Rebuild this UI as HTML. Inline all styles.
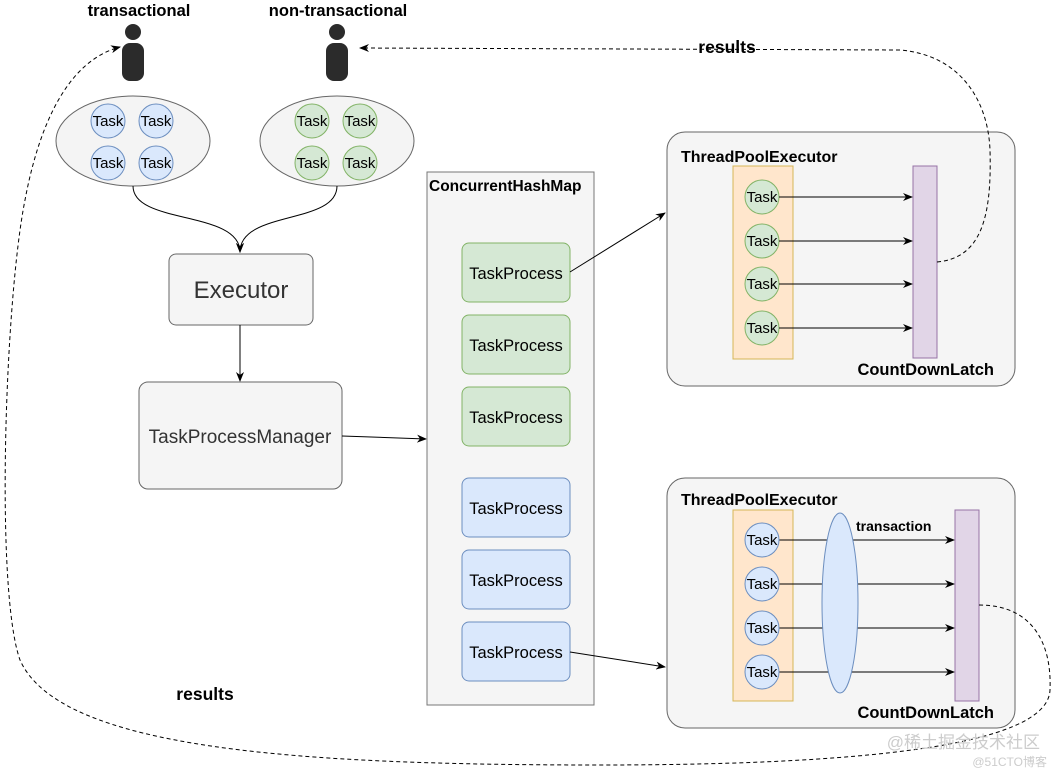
<!DOCTYPE html>
<html><head><meta charset="utf-8"><style>
html,body{margin:0;padding:0;background:#fff;}
svg{display:block;font-family:"Liberation Sans",Helvetica,Arial,sans-serif;}
.b{font-weight:bold;fill:#000;}
</style></head><body>
<svg width="1057" height="773" viewBox="0 0 1057 773" xmlns="http://www.w3.org/2000/svg">
<defs>
<marker id="a" markerWidth="10" markerHeight="10" refX="9" refY="5" orient="auto" markerUnits="userSpaceOnUse"><path d="M0,1 L10,5 L0,9 L3,5 Z" fill="#000"/></marker>
</defs>
<rect width="1057" height="773" fill="#fff"/>
<text x="139" y="16" text-anchor="middle" class="b" font-size="16.5">transactional</text>
<text x="338" y="16" text-anchor="middle" class="b" font-size="16.5">non-transactional</text>
<g fill="#2b2b2b">
<circle cx="133" cy="32" r="8"/><rect x="122" y="43" width="22" height="38" rx="8"/>
<circle cx="337" cy="32" r="8"/><rect x="326" y="43" width="22" height="38" rx="8"/>
</g>
<ellipse cx="133" cy="141" rx="77" ry="45" fill="#f4f4f4" stroke="#666"/>
<ellipse cx="337" cy="141" rx="77" ry="45" fill="#f4f4f4" stroke="#666"/>
<g font-size="15" text-anchor="middle">
<g fill="#dae8fc" stroke="#6c8ebf">
<circle cx="108" cy="121" r="17"/><circle cx="156" cy="121" r="17"/><circle cx="108" cy="163" r="17"/><circle cx="156" cy="163" r="17"/>
</g>
<g fill="#d5e8d4" stroke="#82b366">
<circle cx="312" cy="121" r="17"/><circle cx="360" cy="121" r="17"/><circle cx="312" cy="163" r="17"/><circle cx="360" cy="163" r="17"/>
</g>
<text x="108" y="126">Task</text><text x="156" y="126">Task</text><text x="108" y="168">Task</text><text x="156" y="168">Task</text>
<text x="312" y="126">Task</text><text x="360" y="126">Task</text><text x="312" y="168">Task</text><text x="360" y="168">Task</text>
</g>
<path d="M133,186 C133,225 240,210 240,252" fill="none" stroke="#000" marker-end="url(#a)"/>
<path d="M337,186 C337,225 240,210 240,252" fill="none" stroke="#000" marker-end="url(#a)"/>
<rect x="169" y="254" width="144" height="71" rx="7" fill="#f5f5f5" stroke="#666"/>
<text x="241" y="298" text-anchor="middle" font-size="24" fill="#333">Executor</text>
<line x1="240" y1="325" x2="240" y2="381" stroke="#000" marker-end="url(#a)"/>
<rect x="139" y="382" width="203" height="107" rx="9" fill="#f5f5f5" stroke="#666"/>
<text x="240" y="443" text-anchor="middle" font-size="19" fill="#333">TaskProcessManager</text>
<line x1="342" y1="436" x2="426" y2="439" stroke="#000" marker-end="url(#a)"/>
<rect x="427" y="172" width="167" height="533" fill="#f5f5f5" stroke="#777"/>
<text x="429" y="191" class="b" font-size="15.5">ConcurrentHashMap</text>
<g font-size="16.5" text-anchor="middle">
<g fill="#d5e8d4" stroke="#82b366">
<rect x="462" y="243" width="108" height="59" rx="7"/><rect x="462" y="315" width="108" height="59" rx="7"/><rect x="462" y="387" width="108" height="59" rx="7"/>
</g>
<g fill="#dae8fc" stroke="#6c8ebf">
<rect x="462" y="478" width="108" height="59" rx="7"/><rect x="462" y="550" width="108" height="59" rx="7"/><rect x="462" y="622" width="108" height="59" rx="7"/>
</g>
<text x="516" y="279">TaskProcess</text><text x="516" y="351">TaskProcess</text><text x="516" y="423">TaskProcess</text>
<text x="516" y="514">TaskProcess</text><text x="516" y="586">TaskProcess</text><text x="516" y="658">TaskProcess</text>
</g>
<line x1="570" y1="272" x2="665" y2="213" stroke="#000" marker-end="url(#a)"/>
<line x1="570" y1="652" x2="665" y2="667" stroke="#000" marker-end="url(#a)"/>
<rect x="667" y="132" width="348" height="254" rx="18" fill="#f5f5f5" stroke="#666"/>
<text x="681" y="162" class="b" font-size="16">ThreadPoolExecutor</text>
<rect x="733" y="166" width="60" height="193" fill="#ffe6cc" stroke="#d6b656"/>
<rect x="913" y="166" width="24" height="192" fill="#e1d5e7" stroke="#9673a6"/>
<g font-size="15" text-anchor="middle">
<g fill="#d5e8d4" stroke="#82b366">
<circle cx="762" cy="197" r="17"/><circle cx="762" cy="241" r="17"/><circle cx="762" cy="284" r="17"/><circle cx="762" cy="328" r="17"/>
</g>
<text x="762" y="202">Task</text><text x="762" y="246">Task</text><text x="762" y="289">Task</text><text x="762" y="333">Task</text>
</g>
<g stroke="#000" marker-end="url(#a)">
<line x1="779" y1="197" x2="912" y2="197"/><line x1="779" y1="241" x2="912" y2="241"/><line x1="779" y1="284" x2="912" y2="284"/><line x1="779" y1="328" x2="912" y2="328"/>
</g>
<text x="994" y="375" text-anchor="end" class="b" font-size="16.5">CountDownLatch</text>
<rect x="667" y="478" width="348" height="250" rx="18" fill="#f5f5f5" stroke="#666"/>
<text x="681" y="505" class="b" font-size="16">ThreadPoolExecutor</text>
<rect x="733" y="510" width="60" height="191" fill="#ffe6cc" stroke="#d6b656"/>
<rect x="955" y="510" width="24" height="191" fill="#e1d5e7" stroke="#9673a6"/>
<g stroke="#000" marker-end="url(#a)">
<line x1="779" y1="540" x2="954" y2="540"/><line x1="779" y1="584" x2="954" y2="584"/><line x1="779" y1="628" x2="954" y2="628"/><line x1="779" y1="672" x2="954" y2="672"/>
</g>
<ellipse cx="840" cy="603" rx="18" ry="90" fill="#dae8fc" stroke="#6c8ebf"/>
<g font-size="15" text-anchor="middle">
<g fill="#dae8fc" stroke="#6c8ebf">
<circle cx="762" cy="540" r="17"/><circle cx="762" cy="584" r="17"/><circle cx="762" cy="628" r="17"/><circle cx="762" cy="672" r="17"/>
</g>
<text x="762" y="545">Task</text><text x="762" y="589">Task</text><text x="762" y="633">Task</text><text x="762" y="677">Task</text>
</g>
<text x="856" y="531" class="b" font-size="14">transaction</text>
<text x="994" y="718" text-anchor="end" class="b" font-size="16.5">CountDownLatch</text>
<path d="M937,262 C980,258 992,220 990,150 C988,100 960,55 900,50 L360,48" fill="none" stroke="#000" stroke-dasharray="4,3" marker-end="url(#a)"/>
<text x="727" y="53" text-anchor="middle" class="b" font-size="17.5">results</text>
<path d="M979,605 C1030,605 1052,640 1050,690 C1048,740 900,765 600,765 C300,765 60,750 20,660 C-5,590 5,300 25,200 C40,120 70,60 120,47" fill="none" stroke="#000" stroke-dasharray="4,3" marker-end="url(#a)"/>
<text x="205" y="700" text-anchor="middle" class="b" font-size="17.5">results</text>
<text x="1040" y="748" text-anchor="end" font-size="17" fill="#ccc" font-family="'Liberation Sans','Noto Sans CJK SC',sans-serif">@稀土掘金技术社区</text>
<text x="1047" y="766" text-anchor="end" font-size="12" fill="#ccc" font-family="'Liberation Sans','Noto Sans CJK SC',sans-serif">@51CTO博客</text>
</svg>
</body></html>
